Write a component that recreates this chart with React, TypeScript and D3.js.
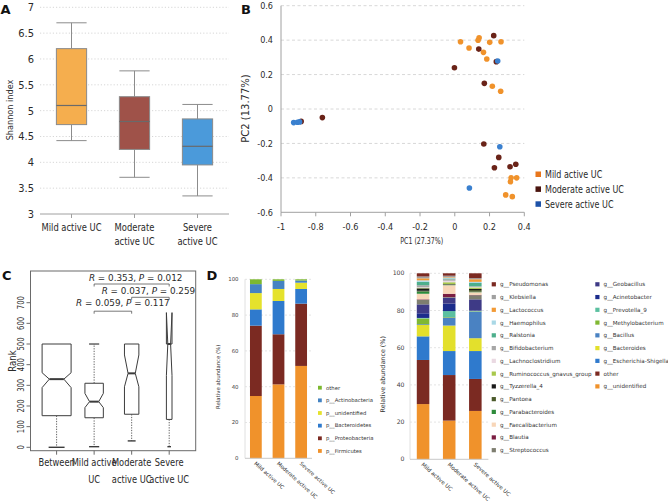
import React from 'react';
import * as d3 from 'd3';

const FONT = '"DejaVu Sans", Verdana, sans-serif';

// ---------- Panel A : Shannon index boxplot ----------
const groupsA = ['Mild active UC', 'Moderate active UC', 'Severe active UC'];
const labelLinesA = [['Mild active UC'], ['Moderate', 'active UC'], ['Severe', 'active UC']];
const shannonMin = [4.42, 3.71, 3.35];
const shannonQ1 = [4.73, 4.25, 3.95];
const shannonMedian = [5.1, 4.79, 4.31];
const shannonQ3 = [6.2, 5.27, 4.84];
const shannonMax = [6.7, 5.77, 5.12];
const shannonTicks = [3, 3.5, 4, 4.5, 5, 5.5, 6, 6.5, 7];
const colorsA = ['#F5AE4E', '#9F5249', '#4B9ADA'];

// ---------- Panel B : PCoA ----------
const pc1Ticks = [-1, -0.8, -0.6, -0.4, -0.2, 0, 0.2, 0.4];
const pc2Ticks = [-0.6, -0.4, -0.2, 0, 0.2, 0.4, 0.6];
const mildPC1 = [0.033, 0.082, 0.14, 0.134, 0.201, 0.266, 0.165, 0.184, 0.216, 0.264, 0.324, 0.356, 0.32, 0.293, 0.331];
const mildPC2 = [0.391, 0.354, 0.414, 0.399, 0.387, 0.391, 0.329, 0.29, 0.132, 0.103, -0.4, -0.4, -0.422, -0.499, -0.509];
const moderatePC1 = [0.224, 0.138, -0.002, 0.239, 0.17, -0.884, -0.762, 0.167, 0.253, 0.228, 0.318, 0.351];
const moderatePC2 = [0.426, 0.348, 0.24, 0.275, 0.149, -0.072, -0.05, -0.203, -0.281, -0.341, -0.335, -0.321];
const severePC1 = [-0.927, -0.905, -0.893, 0.247, 0.259, 0.084];
const severePC2 = [-0.079, -0.077, -0.075, 0.279, -0.219, -0.459];
const seriesB = ['Mild active UC', 'Moderate active UC', 'Severe active UC'];
const pointColorsB = ['#F0922B', '#6A2318', '#3A80CF'];
const legendColorsB = ['#E8761C', '#4A140E', '#1D52A8'];

// ---------- Panel C : ANOSIM rank boxplot ----------
const groupsC = ['Between', 'Mild active UC', 'Moderate active UC', 'Severe active UC'];
const labelLine1C = ['Between', 'Mild active', 'Moderate', 'Severe'];
const labelLine2C = ['', 'UC', 'active UC', 'active UC'];
const rankTicks = [0, 100, 200, 300, 400, 500, 600, 700];
const rankMin = [0, 3, 31, 3];
const rankQ1 = [153, 143, 160, 135];
const rankMedian = [330, 221, 358, 500];
const rankQ3 = [500, 310, 500, 500];
const rankMax = [500, 500, 500, 500];
const rankNotchLo = [289, 192, 293, 348];
const rankNotchHi = [361, 261, 447, 652];
const compPairs = [[1, 3], [2, 3], [1, 2]];
const compR = ['0.353', '0.037', '0.059'];
const compP = ['0.012', '0.259', '0.117'];

// ---------- Panel D : relative abundance ----------
const groupsD = ['Mild active UC', 'Moderate active UC', 'Severe active UC'];
const phyla = ['p__Firmicutes', 'p__Proteobacteria', 'p__Bacteroidetes', 'p__unidentified', 'p__Actinobacteria', 'other'];
const phylumColors = ['#F0922B', '#7B2A22', '#2F7ACD', '#E5E22C', '#4483C2', '#7CB82F'];
const phylaMild = [34.8, 39.3, 9.1, 9.1, 5.0, 2.7];
const phylaModerate = [41.3, 28.0, 18.6, 6.7, 4.5, 0.9];
const phylaSevere = [51.6, 34.8, 8.2, 3.5, 1.2, 0.7];

const genera = [
  'g__unidentified', 'other', 'g__Escherichia-Shigella', 'g__Bacteroides', 'g__Bacillus',
  'g__Methylobacterium', 'g__Prevotella_9', 'g__Acinetobacter', 'g__Geobacillus', 'g__Streptococcus',
  'g__Blautia', 'g__Faecalibacterium', 'g__Parabacteroides', 'g__Pantoea', 'g__Tyzzerella_4',
  'g__Ruminococcus_gnavus_group', 'g__Lachnoclostridium', 'g__Bifidobacterium', 'g__Ralstonia',
  'g__Haemophilus', 'g__Lactococcus', 'g__Klebsiella', 'g__Pseudomonas',
];
const genusColors = [
  '#F0922B', '#7B2A22', '#2F7ACD', '#E3E02C', '#4A82C2',
  '#80B832', '#5BC0A0', '#1B2C8C', '#3E3A86', '#7E7E70',
  '#7B1E42', '#F8D6B8', '#2E8B3A', '#4B5A2B', '#1A1A1A',
  '#A8C84C', '#EAD9E2', '#A6A6A6', '#4DAF8C',
  '#A9D8E6', '#F29A36', '#A0A0A0', '#7B2A22',
];
const generaMild = [29.7, 23.7, 12.7, 6.1, 0.4, 3.1, 0.3, 2.5, 4.8, 2.4, 0.3, 3.0, 1.2, 0.4, 1.3, 0.3, 0.3, 1.1, 1.8, 0.8, 1.1, 1.0, 1.7];
const generaModerate = [20.8, 24.5, 12.9, 13.7, 4.3, 0.3, 3.2, 4.0, 3.2, 0.3, 1.8, 4.6, 0.2, 0.2, 0.2, 1.0, 0.8, 0.8, 0.4, 0.4, 0.3, 0.8, 1.3];
const generaSevere = [26.0, 17.2, 15.0, 6.9, 14.3, 0.2, 0.2, 0.3, 5.9, 2.2, 0.2, 1.4, 0.3, 0.9, 0.6, 0.8, 0.3, 0.3, 1.8, 0.6, 1.4, 0.6, 2.6];
const abundanceTicks = [0, 20, 40, 60, 80, 100];

// ---------- helpers ----------
type TP = {
  x: number; y: number; fs: number; sx?: number; anchor?: string; rot?: number;
  weight?: string | number; fill?: string; children?: any;
};
function Txt({ x, y, fs, sx = 1, anchor = 'start', rot = 0, weight = 'normal', fill = '#2a2a2a', children }: TP) {
  return (
    <text
      transform={`translate(${x},${y}) rotate(${rot}) scale(${sx},1)`}
      fontSize={fs}
      textAnchor={anchor as any}
      fontWeight={weight as any}
      fill={fill}
      fontFamily={FONT}
    >
      {children}
    </text>
  );
}

function PanelA() {
  const y = d3.scaleLinear().domain([3, 7]).range([214, 7.3]);
  const x = d3.scaleBand<string>().domain(groupsA).range([40, 229]);
  const c = (i: number) => (x(groupsA[i]) as number) + x.bandwidth() / 2;
  const hw = x.bandwidth() * 0.24;
  const grid = '#d6d6d6';
  return (
    <g>
      <Txt x={0.5} y={13.5} fs={13} weight="bold" fill="#111">A</Txt>
      {shannonTicks.slice(1).map((t) => (
        <line key={t} x1={40} x2={229} y1={y(t)} y2={y(t)} stroke={grid} strokeDasharray="1.2,2" />
      ))}
      <line x1={40} x2={229} y1={y(3)} y2={y(3)} stroke="#a0a0a0" />
      {shannonTicks.map((t) => (
        <Txt key={t} x={34} y={y(t) + 4} fs={11} sx={0.9} anchor="end">{String(t)}</Txt>
      ))}
      {groupsA.map((g, i) => (
        <g key={g}>
          <line x1={c(i)} x2={c(i)} y1={y(3)} y2={y(3) + 4} stroke="#a0a0a0" />
          <line x1={c(i)} x2={c(i)} y1={y(shannonMax[i])} y2={y(shannonQ3[i])} stroke="#8c8c8c" />
          <line x1={c(i)} x2={c(i)} y1={y(shannonQ1[i])} y2={y(shannonMin[i])} stroke="#8c8c8c" />
          <line x1={c(i) - hw} x2={c(i) + hw} y1={y(shannonMax[i])} y2={y(shannonMax[i])} stroke="#8c8c8c" />
          <line x1={c(i) - hw} x2={c(i) + hw} y1={y(shannonMin[i])} y2={y(shannonMin[i])} stroke="#8c8c8c" />
          <rect x={c(i) - hw} width={2 * hw} y={y(shannonQ3[i])} height={y(shannonQ1[i]) - y(shannonQ3[i])}
            fill={colorsA[i]} stroke="#8a8a8a" />
          <line x1={c(i) - hw} x2={c(i) + hw} y1={y(shannonMedian[i])} y2={y(shannonMedian[i])} stroke="#6a6a6a" strokeWidth={1.2} />
          {labelLinesA[i].map((s, k) => (
            <Txt key={k} x={c(i)} y={231 + k * 13.5} fs={10} sx={0.84} anchor="middle">{s}</Txt>
          ))}
        </g>
      ))}
      <Txt x={12.5} y={110} fs={9.5} sx={0.86} rot={-90} anchor="middle">Shannon index</Txt>
    </g>
  );
}

function PanelB() {
  const x = d3.scaleLinear().domain([-1, 0.4]).range([281, 524.3]);
  const y = d3.scaleLinear().domain([-0.6, 0.6]).range([212.3, 5.7]);
  const series = [
    { xs: mildPC1, ys: mildPC2 },
    { xs: moderatePC1, ys: moderatePC2 },
    { xs: severePC1, ys: severePC2 },
  ];
  return (
    <g>
      <Txt x={241} y={13.5} fs={13} weight="bold" fill="#111">B</Txt>
      {pc2Ticks.slice(1).map((t) => (
        <line key={t} x1={281} x2={524.3} y1={y(t)} y2={y(t)} stroke="#d8d8d8" strokeDasharray="3,2.5" />
      ))}
      <line x1={281} x2={281} y1={y(0.6)} y2={y(-0.6)} stroke="#a0a0a0" />
      <line x1={281} x2={524.3} y1={y(-0.6)} y2={y(-0.6)} stroke="#a0a0a0" />
      {pc1Ticks.map((t) => (
        <g key={t}>
          <line x1={x(t)} x2={x(t)} y1={y(-0.6)} y2={y(-0.6) + 4} stroke="#a0a0a0" />
          <Txt x={x(t)} y={230} fs={9} sx={0.9} anchor="middle">{String(t)}</Txt>
        </g>
      ))}
      {pc2Ticks.map((t) => (
        <Txt key={t} x={273} y={y(t) + 3.3} fs={9} sx={0.9} anchor="end">{String(t)}</Txt>
      ))}
      {series.map((s, si) =>
        s.xs.map((v, k) => (
          <circle key={`${si}-${k}`} cx={x(v)} cy={y(s.ys[k])} r={2.8} fill={pointColorsB[si]} />
        ))
      )}
      <Txt x={421.7} y={244} fs={9.5} sx={0.66} anchor="middle">PC1 (27.37%)</Txt>
      <Txt x={248.5} y={108.5} fs={10} sx={1} rot={-90} anchor="middle">PC2 (13.77%)</Txt>
      {seriesB.map((s, i) => (
        <g key={s}>
          <rect x={535.5} y={171.5 + i * 14.9} width={5.5} height={5.5} fill={legendColorsB[i]} />
          <Txt x={545} y={177.8 + i * 14.9} fs={10} sx={0.8}>{s}</Txt>
        </g>
      ))}
    </g>
  );
}

function PanelC() {
  const y = d3.scaleLinear().domain([0, 700]).range([447.3, 302.7]);
  const x = d3.scalePoint<string>().domain(groupsC).range([56.6, 169.2]);
  const halfW = [14.5, 9.2, 7.2, 2.8];
  const frame = { x0: 30.5, x1: 195.7, y0: 271, y1: 450.7 };
  const ink = '#3c3c3c';
  const bracketY = [284, 297.3, 311.2];
  const textY = [280.5, 294, 306.2];
  const textDx = [4, -2, 10];
  return (
    <g>
      <Txt x={2} y={280} fs={13} weight="bold" fill="#111">C</Txt>
      <rect x={frame.x0} y={frame.y0} width={frame.x1 - frame.x0} height={frame.y1 - frame.y0} fill="none" stroke="#6a6a6a" />
      {rankTicks.map((t) => (
        <g key={t}>
          <line x1={frame.x0} x2={frame.x0 - 4} y1={y(t)} y2={y(t)} stroke="#6a6a6a" />
          <Txt x={24} y={y(t)} fs={9.5} sx={0.72} rot={-90} anchor="middle">{String(t)}</Txt>
        </g>
      ))}
      <Txt x={15.5} y={361} fs={10} sx={0.86} rot={-90} anchor="middle">Rank</Txt>
      {groupsC.map((g, i) => {
        const c = x(g) as number;
        const hw = halfW[i];
        const pts: [number, number][] = [
          [c - hw, rankQ1[i]], [c - hw, rankNotchLo[i]], [c - hw / 2, rankMedian[i]], [c - hw, rankNotchHi[i]],
          [c - hw, rankQ3[i]], [c + hw, rankQ3[i]], [c + hw, rankNotchHi[i]], [c + hw / 2, rankMedian[i]],
          [c + hw, rankNotchLo[i]], [c + hw, rankQ1[i]],
        ];
        const path = (d3.line()(pts.map(([px, v]) => [px, y(v)] as [number, number])) || '') + 'Z';
        const cap = hw * 0.55;
        return (
          <g key={g}>
            <line x1={c} x2={c} y1={frame.y1} y2={frame.y1 + 4} stroke="#6a6a6a" />
            {rankMax[i] > rankQ3[i] && (
              <g>
                <line x1={c} x2={c} y1={y(rankQ3[i])} y2={y(rankMax[i])} stroke={ink} strokeDasharray="1.3,1.3" strokeWidth={0.8} />
                <line x1={c - cap} x2={c + cap} y1={y(rankMax[i])} y2={y(rankMax[i])} stroke={ink} strokeWidth={1.2} />
              </g>
            )}
            {rankMin[i] < rankQ1[i] && (
              <g>
                <line x1={c} x2={c} y1={y(rankQ1[i])} y2={y(rankMin[i])} stroke={ink} strokeDasharray="1.3,1.3" strokeWidth={0.8} />
                <line x1={c - Math.max(cap, 1.8)} x2={c + Math.max(cap, 1.8)} y1={y(rankMin[i])} y2={y(rankMin[i])} stroke={ink} strokeWidth={1.4} />
              </g>
            )}
            <path d={path} fill="white" stroke={ink} strokeWidth={1} strokeLinejoin="round" />
            <line x1={c - hw / 2} x2={c + hw / 2} y1={y(rankMedian[i])} y2={y(rankMedian[i])} stroke={ink} strokeWidth={2} />
            <Txt x={c} y={466} fs={10} sx={0.83} anchor="middle">{labelLine1C[i]}</Txt>
            {labelLine2C[i] && <Txt x={c} y={482.5} fs={10} sx={0.83} anchor="middle">{labelLine2C[i]}</Txt>}
          </g>
        );
      })}
      {compPairs.map(([a, b], k) => {
        const xa = x(groupsC[a]) as number;
        const xb = x(groupsC[b]) as number;
        const by = bracketY[k];
        return (
          <g key={k}>
            <path d={`M${xa},${by + 2.5}V${by}H${xb}V${by + 2.5}`} fill="none" stroke="#555" strokeWidth={0.8} />
            <text
              transform={`translate(${(xa + xb) / 2 + textDx[k]},${textY[k]}) scale(0.93,1)`}
              fontSize={9.5} textAnchor="middle" fontFamily={FONT} fill="#2a2a2a"
            >
              <tspan fontStyle="italic">R</tspan>{` = ${compR[k]}, `}<tspan fontStyle="italic">P</tspan>{` = ${compP[k]}`}
            </text>
          </g>
        );
      })}
    </g>
  );
}

type StackProps = {
  keys: string[]; colors: string[]; values: number[][];
  y0: number; y1: number; x0: number; x1: number; pIn: number; pOut: number;
  axisX: number; tickX: number; tickFs: number; titleX: number; titleFs: number; labelFs: number; labelY: number;
};
function StackChart(p: StackProps) {
  const table = groupsD.map((g, gi) => {
    const row: any = { group: g };
    p.keys.forEach((k, ki) => { row[k] = p.values[gi][ki]; });
    return row;
  });
  const stacked = d3.stack<any>().keys(p.keys)(table);
  const y = d3.scaleLinear().domain([0, 100]).range([p.y0, p.y1]);
  const x = d3.scaleBand<string>().domain(groupsD).range([p.x0, p.x1]).paddingInner(p.pIn).paddingOuter(p.pOut);
  return (
    <g>
      {abundanceTicks.slice(1).map((t) => (
        <line key={t} x1={p.axisX} x2={p.x1} y1={y(t)} y2={y(t)} stroke="#e4e4e4" strokeDasharray="2,2" />
      ))}
      <line x1={p.axisX} x2={p.axisX} y1={y(0)} y2={y(100)} stroke="#e0e0e0" />
      {abundanceTicks.map((t) => (
        <Txt key={t} x={p.tickX} y={y(t) + p.tickFs * 0.35} fs={p.tickFs} anchor="end" fill="#444">{String(t)}</Txt>
      ))}
      <Txt x={p.titleX} y={(y(0) + y(100)) / 2 + 8} fs={p.titleFs} rot={-90} anchor="middle" fill="#333">Relative abundance (%)</Txt>
      {stacked.map((layer, li) => (
        <g key={p.keys[li]} fill={p.colors[li]}>
          {layer.map((d, di) => (
            <rect key={di} x={x(groupsD[di])} width={x.bandwidth()} y={y(d[1])} height={Math.max(0, y(d[0]) - y(d[1]))} />
          ))}
        </g>
      ))}
      <line x1={p.axisX} x2={p.x1} y1={y(0)} y2={y(0)} stroke="#c8c8c8" />
      {groupsD.map((g) => {
        const c = (x(g) as number) + x.bandwidth() / 2;
        return (
          <Txt key={g} x={c - 2} y={p.labelY} fs={p.labelFs} rot={42} fill="#333">{g}</Txt>
        );
      })}
    </g>
  );
}

function PanelD() {
  const phylaValues = [phylaMild, phylaModerate, phylaSevere];
  const generaValues = [generaMild, generaModerate, generaSevere];
  const phylaLegend = phyla.map((k, i) => ({ k, c: phylumColors[i] })).reverse();
  const genusLegend = genera.map((k, i) => ({ k, c: genusColors[i] })).reverse();
  return (
    <g>
      <Txt x={206.5} y={280} fs={13} weight="bold" fill="#111">D</Txt>
      <StackChart keys={phyla} colors={phylumColors} values={phylaValues}
        y0={458.3} y1={279.3} x0={245} x1={312} pIn={0.48} pOut={0.22}
        axisX={245} tickX={238.5} tickFs={5.4} titleX={220} titleFs={5.4} labelFs={5.3} labelY={464} />
      {phylaLegend.map((d, i) => (
        <g key={d.k}>
          <rect x={318} y={385.8 + i * 12.65} width={3.8} height={3.8} fill={d.c} />
          <Txt x={326} y={389.5 + i * 12.65} fs={5.3} fill="#333">{d.k}</Txt>
        </g>
      ))}
      <StackChart keys={genera} colors={genusColors} values={generaValues}
        y0={459.3} y1={273.3} x0={410} x1={488.4} pIn={0.52} pOut={0.26}
        axisX={410} tickX={404.5} tickFs={6.2} titleX={385} titleFs={6.4} labelFs={5.5} labelY={465} />
      {genusLegend.map((d, i) => {
        const col = i < 14 ? 0 : 1;
        const row = i < 14 ? i : i - 14;
        const sx = col === 0 ? 491.7 : 595.3;
        return (
          <g key={d.k}>
            <rect x={sx} y={282.2 + row * 12.76} width={4.2} height={4.2} fill={d.c} />
            <Txt x={sx + 8.3} y={286.3 + row * 12.76} fs={5.6} fill="#333">{d.k}</Txt>
          </g>
        );
      })}
    </g>
  );
}

export default function App() {
  return (
    <svg width={668} height={502} viewBox="0 0 668 502"
      style={{ position: 'absolute', left: 0, top: 0, display: 'block', background: '#fff' }}>
      <rect width={668} height={502} fill="#fff" />
      <PanelA />
      <PanelB />
      <PanelC />
      <PanelD />
    </svg>
  );
}
